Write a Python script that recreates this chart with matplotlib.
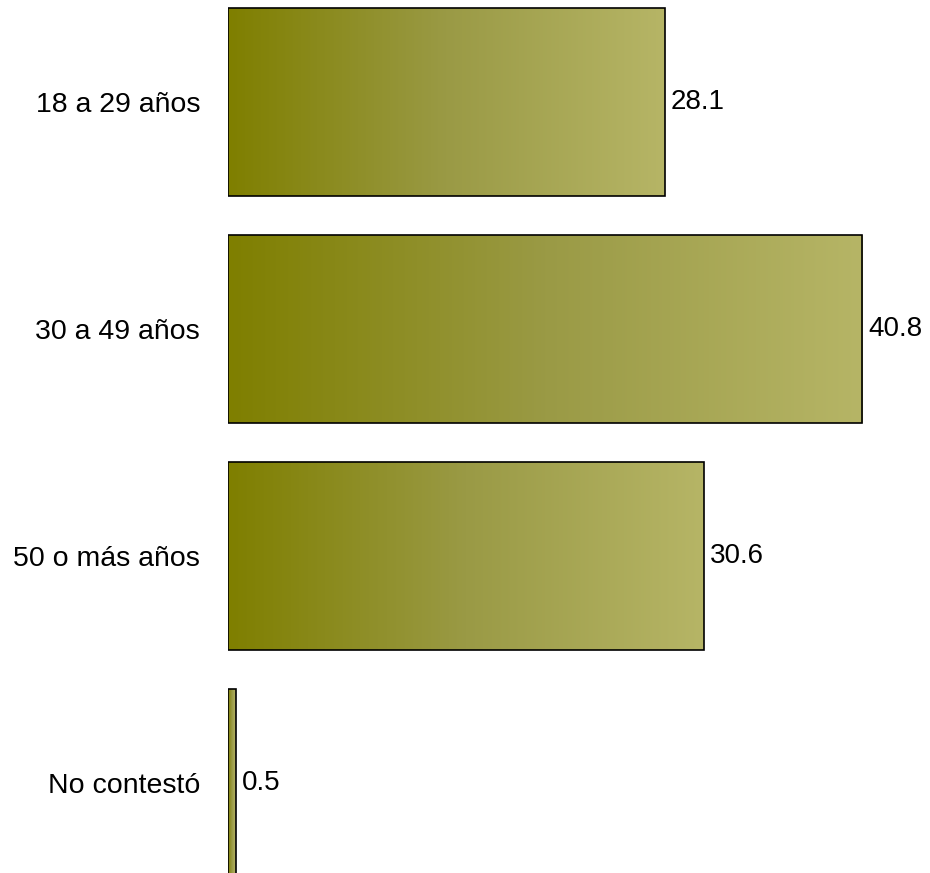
import numpy as np
import matplotlib.pyplot as plt
from matplotlib.colors import LinearSegmentedColormap
from matplotlib import font_manager

categories = ["18 a 29 años", "30 a 49 años", "50 o más años", "No contestó"]
values = [28.1, 40.8, 30.6, 0.5]

names = {f.name for f in font_manager.fontManager.ttflist}
family = "Liberation Sans Narrow" if "Liberation Sans Narrow" in names else "Liberation Sans"
plt.rcParams["font.family"] = [family, "DejaVu Sans"]

olive = LinearSegmentedColormap.from_list("olive", ["#7f7f00", "#9a9a45", "#b6b566"])

fig = plt.figure(figsize=(9.3, 8.73), dpi=100)
ax = fig.add_axes([228 / 930, 0, 700 / 930, 1])

px_per_unit = 15.54
ax.set_xlim(0, 700 / px_per_unit)
pitch = 227
ax.set_ylim((873 - 102) / pitch, -102 / pitch)

y = np.arange(len(categories))
bar_h = 188 / pitch
grad = np.linspace(0, 1, 256).reshape(1, -1)

bars = ax.barh(y, values, height=bar_h, facecolor="none", edgecolor="black", linewidth=1.2, zorder=3)
for bar, val in zip(bars, values):
    x0, y0 = bar.get_x(), bar.get_y()
    img = ax.imshow(grad, cmap=olive, aspect="auto",
                    extent=(x0, x0 + val, y0 + bar_h, y0), zorder=2)
    img.set_clip_path(bar)
    ax.text(val + 0.4, y0 + bar_h / 2, f"{val:.1f}", va="center", ha="left", fontsize=20)

ax.set_yticks(y)
ax.set_yticklabels(categories, fontsize=20.5)
ax.tick_params(axis="y", length=0, pad=20)
ax.set_xticks([])
for s in ax.spines.values():
    s.set_visible(False)

fig.savefig("out.png", dpi=100)
